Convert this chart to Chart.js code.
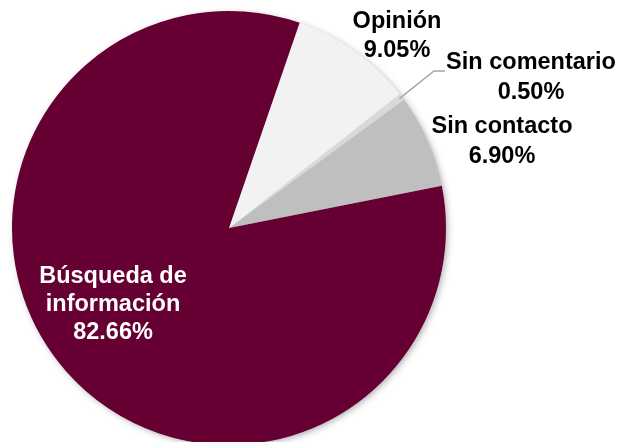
<!DOCTYPE html>
<html>
<head>
<meta charset="utf-8">
<script src="https://cdn.jsdelivr.net/npm/chart.js@4.4.1/dist/chart.umd.min.js"></script>
<style>
  html, body { margin: 0; padding: 0; background: #fff; overflow: hidden; }
  #wrap { position: relative; width: 622px; height: 446px; }
</style>
</head>
<body>
<div id="wrap"><canvas id="pie"></canvas></div>
<script>
const categories = ['Opinión', 'Sin comentario', 'Sin contacto', 'Búsqueda de información'];
const labelLines = [['Opinión'], ['Sin comentario'], ['Sin contacto'], ['Búsqueda de', 'información']];
const shares = [9.05, 0.50, 6.90, 82.66];
const colors = ['#F2F2F2', '#D9D9D9', '#BFBFBF', '#660033'];
const textColors = ['#000000', '#000000', '#000000', '#FFFFFF'];

// label anchor (first baseline) relative to pie centre, in pixels
const labelAnchor = [[168, -200], [302, -159], [273, -95], [-116, 55]];
const lineGap = [29, 30, 30, 28];

// soft shadow round the whole pie
const pieShadow = {
    id: 'pieShadow',
    beforeDatasetsDraw(chart) {
        const arc = chart.getDatasetMeta(0).data[0];
        if (!arc) return;
        const ctx = chart.ctx;
        ctx.save();
        ctx.shadowColor = 'rgba(0,0,0,0.35)';
        ctx.shadowBlur = 7;
        ctx.shadowOffsetX = 2;
        ctx.shadowOffsetY = 2;
        ctx.fillStyle = '#ffffff';
        ctx.beginPath();
        ctx.arc(arc.x, arc.y, arc.outerRadius - 1, 0, Math.PI * 2);
        ctx.fill();
        ctx.restore();
    }
};

const pieLabels = {
    id: 'pieLabels',
    afterDatasetsDraw(chart) {
        const ctx = chart.ctx;
        const meta = chart.getDatasetMeta(0);
        ctx.save();
        ctx.font = 'bold 23.5px "Liberation Sans", Arial, sans-serif';
        ctx.textAlign = 'center';
        ctx.textBaseline = 'alphabetic';
        meta.data.forEach((arc, i) => {
            const lines = labelLines[i].concat([shares[i].toFixed(2) + '%']);
            const x = arc.x + labelAnchor[i][0];
            let y = arc.y + labelAnchor[i][1];
            ctx.fillStyle = textColors[i];
            lines.forEach(t => {
                ctx.fillText(t, x, y);
                y += lineGap[i];
            });
        });

        // leader line for the thin slice
        const small = meta.data[1];
        const mid = (small.startAngle + small.endAngle) / 2;
        const r = small.outerRadius;
        ctx.strokeStyle = '#A6A6A6';
        ctx.lineWidth = 1.5;
        ctx.beginPath();
        ctx.moveTo(small.x + Math.cos(mid) * (r - 3), small.y + Math.sin(mid) * (r - 3));
        ctx.lineTo(small.x + 205, small.y - 157);
        ctx.lineTo(small.x + 216, small.y - 157);
        ctx.stroke();
        ctx.restore();
    }
};

new Chart(document.getElementById('pie'), {
    type: 'pie',
    data: {
        labels: categories,
        datasets: [{
            data: shares,
            backgroundColor: colors,
            borderWidth: 0
        }]
    },
    options: {
        responsive: true,
        maintainAspectRatio: false,
        animation: false,
        rotation: 19,
        layout: { padding: { left: 12, right: 176, top: 11, bottom: 1 } },
        plugins: {
            legend: { display: false },
            tooltip: { enabled: false }
        }
    },
    plugins: [pieShadow, pieLabels]
});
</script>
</body>
</html>
